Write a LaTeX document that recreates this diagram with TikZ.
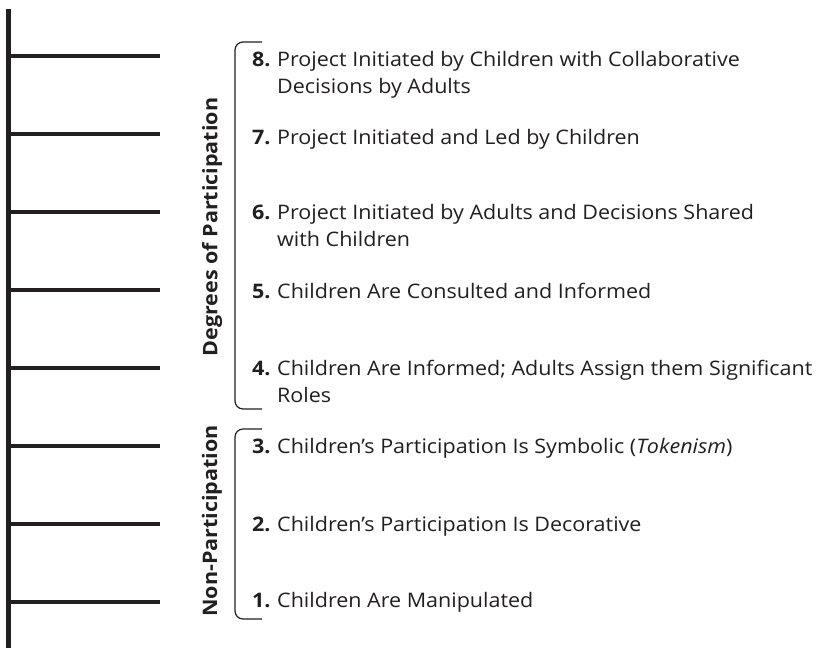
\documentclass[tikz,border=0pt]{standalone}
\usepackage{fontspec}
\setmainfont{Open Sans}[FakeStretch=1.075]
\definecolor{ink}{RGB}{35,31,32}
\newcommand{\lines}[1]{\begin{tabular}[t]{@{}l@{}}#1\end{tabular}}
\begin{document}
\begin{tikzpicture}[x=1pt,y=-1pt,
  rail/.style={draw=ink,line width=4.5pt},
  brace/.style={draw=ink,line width=1.2pt,rounded corners=8pt},
  num/.style={anchor=base west,inner sep=0pt,text=ink,font=\fontsize{20}{27}\selectfont\bfseries},
  item/.style={anchor=base west,inner sep=0pt,text=ink,font=\fontsize{20}{27}\selectfont},
  group/.style={rotate=90,inner sep=0pt,text=ink,font=\fontsize{20}{24}\selectfont\bfseries}]
\useasboundingbox (0,0) rectangle (818,648);
\fill[white] (0,0) rectangle (818,648);

% ladder: one side rail and eight rungs
\draw[rail] (8.5,9) -- (8.5,648);
\foreach \k in {0,...,7}
  \draw[rail] (8.5,{56+78*\k}) -- (160,{56+78*\k});

% group brackets
\draw[brace] (262,42) -- (235,42) -- (235,409) -- (262,409);
\draw[brace] (262,429) -- (235,429) -- (235,619) -- (262,619);

% group labels
\node[group] (gdeg) at (212,227) {Degrees of Participation};
\node[group] (gnon) at (212,521) {Non-Participation};

% rungs of participation
\node[num] (n8) at (252,66.5) {8.};
\node[item] (t8) at (277,66.5) {\lines{Project Initiated by Children with Collaborative\\Decisions by Adults}};
\node[num] (n7) at (252,144) {7.};
\node[item] (t7) at (277,144) {Project Initiated and Led by Children};
\node[num] (n6) at (252,219.5) {6.};
\node[item] (t6) at (277,219.5) {\lines{Project Initiated by Adults and Decisions Shared\\with Children}};
\node[num] (n5) at (252,298.5) {5.};
\node[item] (t5) at (277,298.5) {Children Are Consulted and Informed};
\node[num] (n4) at (252,375) {4.};
\node[item] (t4) at (277,375) {\lines{Children Are Informed; Adults Assign them Significant\\Roles}};
\node[num] (n3) at (252,453.5) {3.};
\node[item] (t3) at (277,453.5) {Children’s Participation Is Symbolic (\textit{Tokenism})};
\node[num] (n2) at (252,531.5) {2.};
\node[item] (t2) at (277,531.5) {Children’s Participation Is Decorative};
\node[num] (n1) at (252,607) {1.};
\node[item] (t1) at (277,607) {Children Are Manipulated};
\end{tikzpicture}
\end{document}
